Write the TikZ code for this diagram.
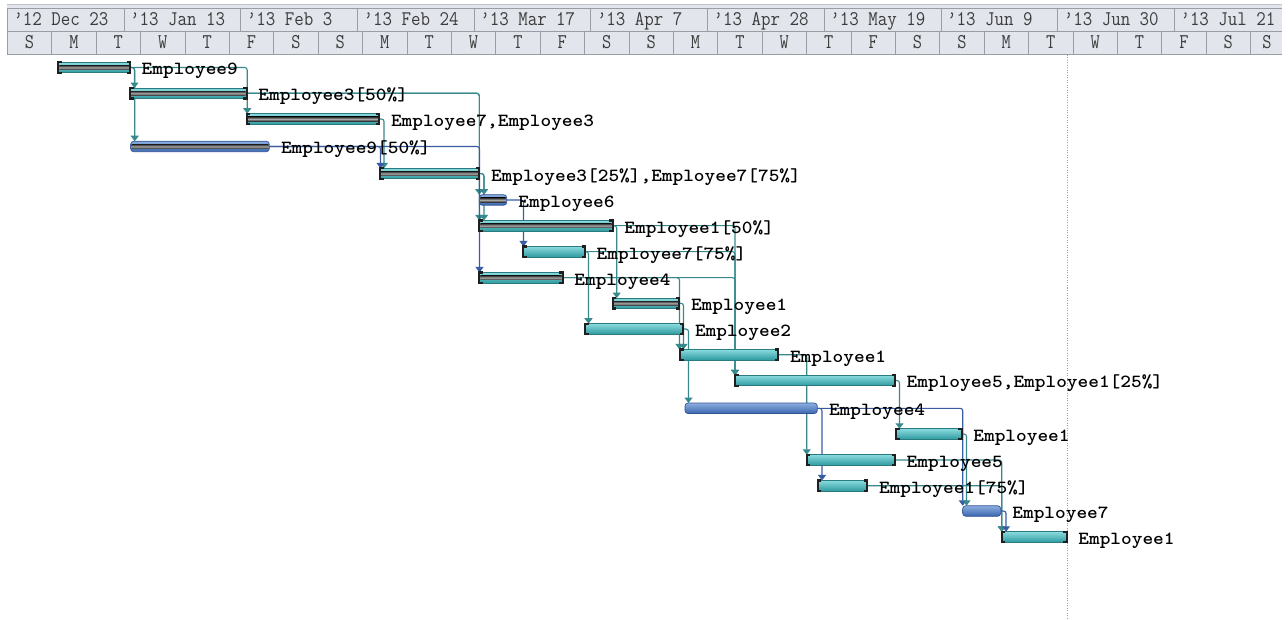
\documentclass[tikz,border=0pt]{standalone}
\usetikzlibrary{arrows.meta}
\usepackage{graphicx}
\definecolor{hdrfill}{HTML}{E2E6EC}
\definecolor{hdrline}{HTML}{9A9DA4}
\definecolor{hdrtop}{HTML}{BFC3C9}
\definecolor{hdrtext}{HTML}{3C3C3C}
\definecolor{cyTop}{HTML}{8ADBDE}
\definecolor{cyBot}{HTML}{2E9A9F}
\definecolor{cyEdge}{HTML}{2A7B7F}
\definecolor{blTop}{HTML}{8CAEE0}
\definecolor{blBot}{HTML}{3A66AE}
\definecolor{blEdge}{HTML}{2E5496}
\definecolor{pgDark}{HTML}{2B2B2B}
\definecolor{pgLight}{HTML}{A8A8A8}
\definecolor{lkTeal}{HTML}{37898C}
\definecolor{lkBlue}{HTML}{3A5CA3}
\definecolor{dotgray}{HTML}{A0A0A0}
\pgfdeclarelayer{bg}
\pgfsetlayers{bg,main}
\newcommand\labtxt[1]{\scalebox{1.1}[1]{\fontsize{18.5}{20}\selectfont\ttfamily\bfseries #1}}
\newcommand\hdrtxt[1]{\scalebox{0.886}[1]{\fontsize{20.8}{22}\selectfont\ttfamily #1}}
\newcommand\daytxt[1]{\scalebox{0.85}[1]{\fontsize{21}{22}\selectfont\ttfamily #1}}
\newcommand\gtask[6]{%
  \node[#5, minimum width={(#3)-(#2)}] (#1) at (#2,#4) {};
  \node[lab] (#1t) at ([xshift=11.5pt,yshift=-7.5pt]#1.east) {\labtxt{#6}};
}
\newcommand\gprog[1]{%
  \shade[top color=pgDark, bottom color=pgDark, middle color=pgLight]
    ([xshift=1pt,yshift=2.2pt]#1.west) rectangle ([xshift=-1pt,yshift=-2.2pt]#1.east);
}
\newcommand\gbrk[1]{%
  \draw[brk] ([xshift=3.5pt]#1.north west) -- (#1.north west) -- (#1.south west) -- ([xshift=3.5pt]#1.south west);
  \draw[brk] ([xshift=-3.5pt]#1.north east) -- (#1.north east) -- (#1.south east) -- ([xshift=-3.5pt]#1.south east);
}
\newcommand\glink[4]{\draw[#1] (#2.east) -| ([xshift=#4pt]#3.north west);}
\begin{document}
\begin{tikzpicture}[x=1pt,y=-1pt,
  cybar/.style={draw=cyEdge, line width=0.7pt, top color=cyTop, bottom color=cyBot, minimum height=10.5pt, inner sep=0pt, outer sep=0pt, anchor=west},
  blbar/.style={draw=blEdge, line width=0.7pt, top color=blTop, bottom color=blBot, rounded corners=3pt, minimum height=10.5pt, inner sep=0pt, outer sep=0pt, anchor=west},
  lab/.style={text=black, inner sep=0pt, anchor=base west},
  hdr/.style={text=hdrtext, inner sep=0pt, anchor=base west},
  day/.style={text=hdrtext, inner sep=0pt, anchor=base},
  tl/.style={draw=lkTeal, line width=1.1pt, rounded corners=2.5pt, -{Triangle[width=8pt,length=5.5pt]}},
  bl/.style={draw=lkBlue, line width=1.1pt, rounded corners=2.5pt, -{Triangle[width=8pt,length=5.5pt]}},
  brk/.style={draw=black!88, line width=2.2pt},
  hl/.style={draw=hdrline, line width=0.8pt}
]
\useasboundingbox (0,0) rectangle (1288,620);
% ---- timescale header
\fill[hdrfill] (7.3,4) rectangle (1282,54);
\draw[hdrtop, line width=1.6pt] (7.3,4.5) -- (1282,4.5);
\draw[hl] (7.3,8) -- (1282,8) (7.3,31) -- (1282,31) (7.3,54) -- (1282,54) (7.3,8) -- (7.3,54);
\foreach \k in {1,...,10} \draw[hl] ({7.3+116.7*\k},8) -- ({7.3+116.7*\k},31);
\foreach \k in {1,...,28} \draw[hl] ({7.3+44.4*\k},31) -- ({7.3+44.4*\k},54);
\foreach \t [count=\i] in {’12 Dec 23,’13 Jan 13,’13 Feb 3,’13 Feb 24,’13 Mar 17,’13 Apr 7,’13 Apr 28,’13 May 19,’13 Jun 9,’13 Jun 30,’13 Jul 21}
  \node[hdr] (top\i) at ({13.3+116.7*(\i-1)},26) {\hdrtxt{\t}};
\foreach \d [count=\i] in {S,M,T,W,T,F,S,S,M,T,W,T,F,S,S,M,T,W,T,F,S,S,M,T,W,T,F,S}
  \node[day] (day\i) at ({7.3+44.4*(\i-0.5)},48.5) {\daytxt{\d}};
\node[day] (day29) at (1267,48.5) {\daytxt{S}};
% ---- status line
\draw[dotgray, line width=1pt, dash pattern=on 1pt off 1.5pt] (1067.7,55) -- (1067.7,620);
% ---- tasks
\gtask{b1}{58.3}{130}{67.5}{cybar}{Employee9}
\gtask{b2}{130}{246.7}{93.3}{cybar}{Employee3[50\%]}
\gtask{b3}{246.7}{379.3}{119}{cybar}{Employee7,Employee3}
\gtask{b4}{130.7}{269.3}{146.5}{blbar}{Employee9[50\%]}
\gtask{b5}{380}{479.3}{173.6}{cybar}{Employee3[25\%],Employee7[75\%]}
\gtask{b6}{479.3}{506.7}{200}{blbar}{Employee6}
\gtask{b7}{479.3}{612.7}{225.7}{cybar}{Employee1[50\%]}
\gtask{b8}{523.3}{585}{251.7}{cybar}{Employee7[75\%]}
\gtask{b9}{479.3}{562.7}{277.7}{cybar}{Employee4}
\gtask{b10}{612.7}{679.3}{303.3}{cybar}{Employee1}
\gtask{b11}{585}{683.3}{329}{cybar}{Employee2}
\gtask{b12}{680}{778.3}{354.7}{cybar}{Employee1}
\gtask{b13}{735}{895}{380.5}{cybar}{Employee5,Employee1[25\%]}
\gtask{b14}{685}{817.3}{408.3}{blbar}{Employee4}
\gtask{b15}{896}{961.7}{434}{cybar}{Employee1}
\gtask{b16}{806.7}{895}{460}{cybar}{Employee5}
\gtask{b17}{817.7}{867.3}{485.7}{cybar}{Employee1[75\%]}
\gtask{b18}{962.7}{1000.7}{511}{blbar}{Employee7}
\gtask{b19}{1001.7}{1066.7}{537}{cybar}{Employee1}
% progress bands (completed tasks)
\foreach \b in {b1,b2,b3,b4,b5,b6,b7,b9,b10} {\gprog{\b}}
% start/finish brackets
\foreach \b in {b1,b2,b3,b5,b7,b8,b9,b10,b11,b12,b13,b15,b16,b17,b19} {\gbrk{\b}}
% ---- links
\begin{pgfonlayer}{bg}
\glink{tl}{b1}{b2}{4.5}
\glink{tl}{b1}{b4}{4}
\glink{tl}{b1}{b3}{0.5}
\glink{tl}{b2}{b6}{0}
\glink{tl}{b2}{b7}{0}
\glink{tl}{b3}{b5}{4}
\glink{bl}{b4}{b5}{0.5}
\glink{bl}{b4}{b9}{0.2}
\glink{tl}{b5}{b6}{4.7}
\glink{tl}{b5}{b7}{4.7}
\glink{bl}{b6}{b8}{0.2}
\glink{tl}{b7}{b10}{4}
\glink{tl}{b7}{b13}{0}
\glink{tl}{b8}{b11}{3.5}
\glink{tl}{b8}{b13}{0}
\glink{tl}{b9}{b12}{-0.5}
\glink{tl}{b9}{b13}{0}
\glink{tl}{b10}{b12}{3.5}
\glink{tl}{b11}{b14}{3.5}
\glink{tl}{b12}{b16}{0}
\glink{tl}{b13}{b15}{3.5}
\glink{bl}{b14}{b17}{4.3}
\glink{bl}{b14}{b18}{0}
\glink{tl}{b15}{b18}{3.8}
\glink{tl}{b16}{b19}{0}
\glink{tl}{b17}{b19}{0}
\glink{bl}{b18}{b19}{4.3}
\end{pgfonlayer}
\end{tikzpicture}
\end{document}
